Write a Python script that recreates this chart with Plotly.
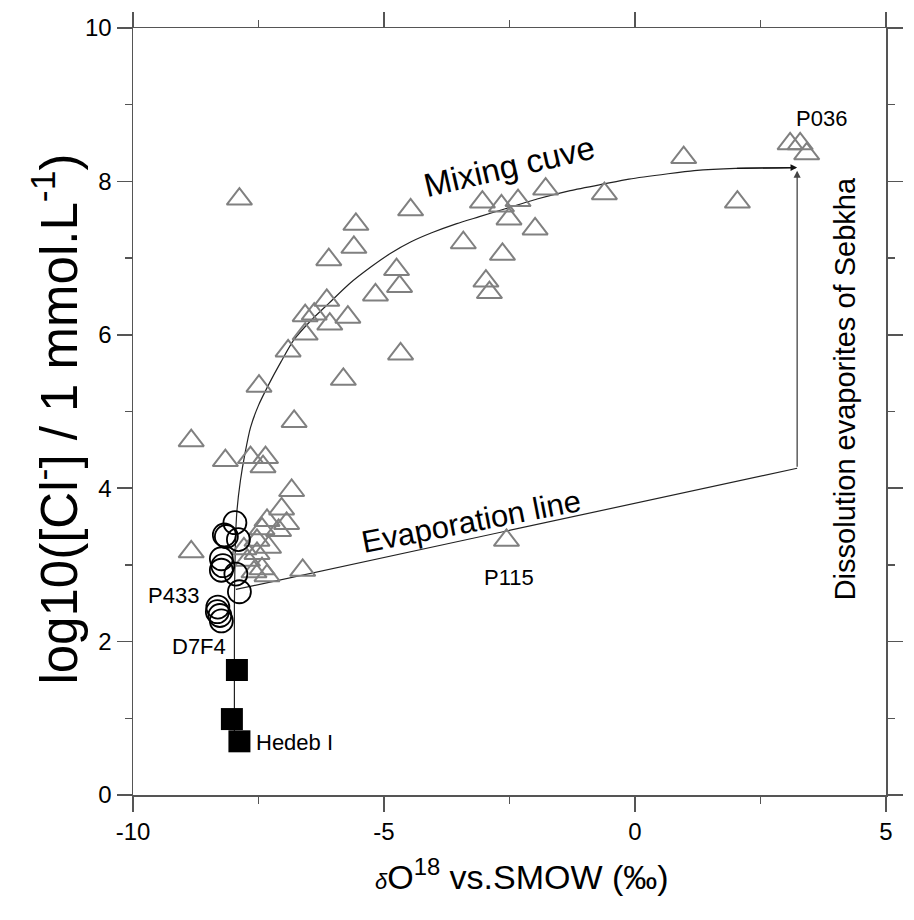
import plotly.graph_objects as go

# ---------------- data ----------------
tri_x = [-7.88, -4.47, -5.56, -5.60, -6.10, -4.75, -4.69, -5.17, -6.14, -6.57,
         -6.39, -5.72, -6.08, -6.57, -6.91, -4.67, -5.81, -7.49, -6.79, -3.04,
         -2.66, -2.33, -1.78, -0.61, -2.51, -1.99, -3.42, -2.64, -2.97, -2.90,
         0.97, 2.04, 3.09, 3.29, 3.42, -2.56, -8.84, -8.16, -7.66, -7.36,
         -7.41, -6.84, -8.84, -7.04, -7.33, -6.94, -7.10, -7.43, -7.53, -7.30,
         -7.53, -7.79, -7.72, -7.43, -7.33, -7.59, -6.62]
tri_y = [7.77, 7.63, 7.44, 7.14, 6.98, 6.85, 6.63, 6.52, 6.45, 6.25,
         6.27, 6.23, 6.14, 6.01, 5.79, 5.75, 5.42, 5.33, 4.87, 7.73,
         7.68, 7.75, 7.90, 7.84, 7.51, 7.38, 7.20, 7.05, 6.70, 6.55,
         8.31, 7.73, 8.49, 8.49, 8.36, 3.32, 4.62, 4.36, 4.40, 4.40,
         4.28, 3.97, 3.17, 3.73, 3.58, 3.54, 3.45, 3.47, 3.32, 3.23,
         3.15, 3.21, 3.06, 2.95, 2.86, 2.91, 2.93]

circ_x = [-7.97, -8.18, -8.14, -7.90, -8.24, -8.21, -8.24, -7.95, -7.88,
          -8.31, -8.32, -8.27, -8.24]
circ_y = [3.55, 3.39, 3.37, 3.33, 3.08, 2.99, 2.93, 2.88, 2.65,
          2.45, 2.39, 2.34, 2.27]

sq_x = [-7.93, -8.03, -7.88]
sq_y = [1.63, 0.99, 0.70]

# mixing curve path
mix_x = [-7.98, -7.98, -7.96, -7.93, -7.86, -7.77, -7.66, -7.50, -7.29, -7.05,
         -6.80, -6.45, -6.10, -5.70, -5.25, -4.85, -4.47, -4.05, -3.55, -3.10,
         -2.60, -1.95, -1.29, -0.60, -0.12, 0.66, 1.18, 2.00, 3.20]
mix_y = [0.75, 2.50, 3.30, 3.70, 4.10, 4.45, 4.79, 5.08, 5.36, 5.65,
         5.93, 6.19, 6.41, 6.66, 6.89, 7.07, 7.21, 7.33, 7.45, 7.54,
         7.64, 7.77, 7.88, 7.97, 8.03, 8.10, 8.14, 8.17, 8.18]

# evaporation line
evap_x = [-7.95, 3.23]
evap_y = [2.68, 4.26]

# dissolution arrow (x, y_from, y_to)
diss_x = 3.23
diss_y0 = 4.26
diss_y1 = 8.14

x_tickvals = [-10, -5, 0, 5]
x_ticktext = ["-10", "-5", "0", "5"]
y_tickvals = [0, 2, 4, 6, 8, 10]
y_ticktext = ["0", "2", "4", "6", "8", "10"]

FONT = "Liberation Sans, Arial, Helvetica, sans-serif"

fig = go.Figure()

fig.add_trace(go.Scatter(x=mix_x, y=mix_y, mode="lines",
                         line=dict(color="#222222", width=1.2, shape="spline", smoothing=0.6),
                         hoverinfo="skip", showlegend=False))
fig.add_trace(go.Scatter(x=evap_x, y=evap_y, mode="lines",
                         line=dict(color="#222222", width=1.2),
                         hoverinfo="skip", showlegend=False))

fig.add_trace(go.Scatter(x=tri_x, y=tri_y, mode="markers",
                         marker=dict(symbol="triangle-up-open", size=22,
                                     color="#808080", line=dict(color="#808080", width=2)),
                         showlegend=False))
fig.add_trace(go.Scatter(x=circ_x, y=circ_y, mode="markers",
                         marker=dict(symbol="circle-open", size=23,
                                     color="#000000", line=dict(color="#000000", width=1.8)),
                         showlegend=False))
fig.add_trace(go.Scatter(x=sq_x, y=sq_y, mode="markers",
                         marker=dict(symbol="square", size=22, color="#000000",
                                     line=dict(width=0)),
                         showlegend=False))

annotations = []
# arrowhead at end of mixing curve
annotations.append(dict(x=mix_x[-1] + 0.03, y=mix_y[-1], ax=mix_x[-2], ay=mix_y[-2],
                        xref="x", yref="y", axref="x", ayref="y", text="",
                        showarrow=True, arrowhead=2, arrowsize=1.1, arrowwidth=1.2,
                        arrowcolor="#111111"))
# dissolution vertical arrow
annotations.append(dict(x=diss_x, y=diss_y1, ax=diss_x, ay=diss_y0,
                        xref="x", yref="y", axref="x", ayref="y", text="",
                        showarrow=True, arrowhead=2, arrowsize=1.1, arrowwidth=1.3,
                        arrowcolor="#444444"))

def lab(text, x, y, size=22, angle=0, xanchor="center"):
    annotations.append(dict(x=x, y=y, xref="x", yref="y", text=text, showarrow=False,
                            textangle=angle, xanchor=xanchor, yanchor="middle",
                            font=dict(family=FONT, size=size, color="#000000")))

lab("P433", -9.20, 2.60)
lab("D7F4", -8.69, 1.94)
lab("Hedeb I", -7.58, 0.68, xanchor="left")
lab("P036", 3.72, 8.82)
lab("P115", -2.52, 2.83)
lab("Mixing cuve", -2.52, 8.20, size=33, angle=-13)
lab("Evaporation line", -3.26, 3.57, size=31, angle=-11)
lab("Dissolution evaporites of Sebkha", 4.20, 5.30, size=29, angle=-90)

# axis titles
annotations.append(dict(x=-0.103, y=0.49, xref="paper", yref="paper",
                        text="log10([Cl<sup>-</sup>] / 1 mmol.L<sup>-1</sup>)",
                        showarrow=False, textangle=-90, xanchor="center", yanchor="middle",
                        font=dict(family=FONT, size=51, color="#000000")))
annotations.append(dict(x=0.517, y=-0.104, xref="paper", yref="paper",
                        text="<i><span style='font-size:22px'>δ</span></i>O<sup>18</sup> vs.SMOW (‰)",
                        showarrow=False, xanchor="center", yanchor="middle",
                        font=dict(family=FONT, size=34, color="#000000")))

axis_common = dict(showgrid=False, zeroline=False, showline=True, linecolor="#555555",
                   linewidth=1.5, mirror="ticks", ticks="outside", ticklen=15,
                   tickwidth=1.5, tickcolor="#555555",
                   tickfont=dict(family=FONT, size=24, color="#000000"))

fig.update_layout(
    width=914, height=920,
    margin=dict(l=133, r=11, t=27, b=125),
    paper_bgcolor="white", plot_bgcolor="white",
    xaxis=dict(range=[-10, 5], tickvals=x_tickvals, ticktext=x_ticktext,
               minor=dict(dtick=2.5, tick0=0, ticks="outside", ticklen=7,
                          tickwidth=1.5, tickcolor="#555555"),
               **axis_common),
    yaxis=dict(range=[0, 10], tickvals=y_tickvals, ticktext=y_ticktext,
               minor=dict(dtick=1, tick0=0, ticks="outside", ticklen=7,
                          tickwidth=1.5, tickcolor="#555555"),
               **axis_common),
    annotations=annotations,
    showlegend=False,
)

# remove the default page margin and scrollbars so the figure fills the window exactly
page_fix = ("document.documentElement.style.margin='0';"
            "document.body.style.margin='0';"
            "document.documentElement.style.overflow='hidden';"
            "document.body.style.overflow='hidden';")

fig.write_html("out.html", post_script=page_fix,
               config={"displayModeBar": False, "staticPlot": True})
